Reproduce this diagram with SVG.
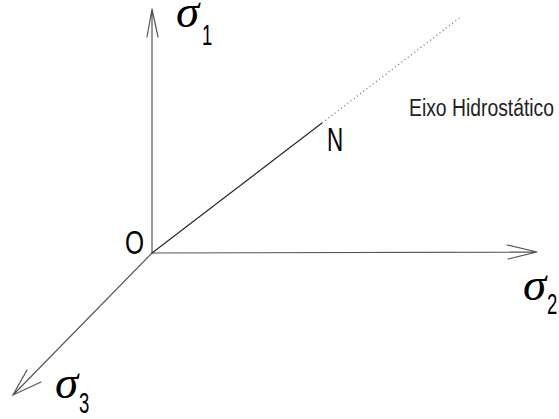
<svg xmlns="http://www.w3.org/2000/svg" width="559" height="419" viewBox="0 0 559 419">
<style>
.ax{stroke:#555;stroke-width:1.2;fill:none;stroke-linecap:round}
.ln{stroke:#222;stroke-width:1.1;fill:none}
.dot{stroke:#666;stroke-width:1.2;fill:none;stroke-dasharray:1 3}
.sig{font-family:"Liberation Serif","DejaVu Serif",serif;font-style:italic;font-size:47px;fill:#000}
.sub{font-family:"Liberation Sans",Arial,sans-serif;font-size:30px;fill:#000}
.lbl{font-family:"Liberation Sans",Arial,sans-serif;font-size:34px;fill:#000}
.cap{font-family:"Liberation Sans",Arial,sans-serif;font-size:23px;fill:#222}
</style>
<rect width="559" height="419" fill="#fff"/>
<g id="connectors">
<path class="ax" d="M152,253 L152,9 M147,37 L152,9 L158,37"/>
<path class="ax" d="M152,253 L537,252 M507,245 L537,252 L508,259"/>
<path class="ax" d="M152,253 L13,395 M27,370 L13,395 L41,382"/>
<path class="ln" d="M152,253 L322,123"/>
<path class="dot" d="M322,123 L462,16"/>
</g>
<g id="sigma1"><text class="sig" x="176" y="27">σ</text><text class="sub" transform="translate(202,45) scale(0.62,1)">1</text></g>
<g id="sigma2"><text class="sig" x="523" y="300">σ</text><text class="sub" transform="translate(547,314) scale(0.62,1)">2</text></g>
<g id="sigma3"><text class="sig" x="55" y="398">σ</text><text class="sub" transform="translate(79,413) scale(0.62,1)">3</text></g>
<g id="O"><text class="lbl" transform="translate(125,254) scale(0.72,1)">O</text></g>
<g id="N"><text class="lbl" transform="translate(327,151) scale(0.66,1)">N</text></g>
<g id="eixo"><text class="cap" x="409" y="116" textLength="145" lengthAdjust="spacingAndGlyphs">Eixo Hidrostático</text></g>
</svg>
